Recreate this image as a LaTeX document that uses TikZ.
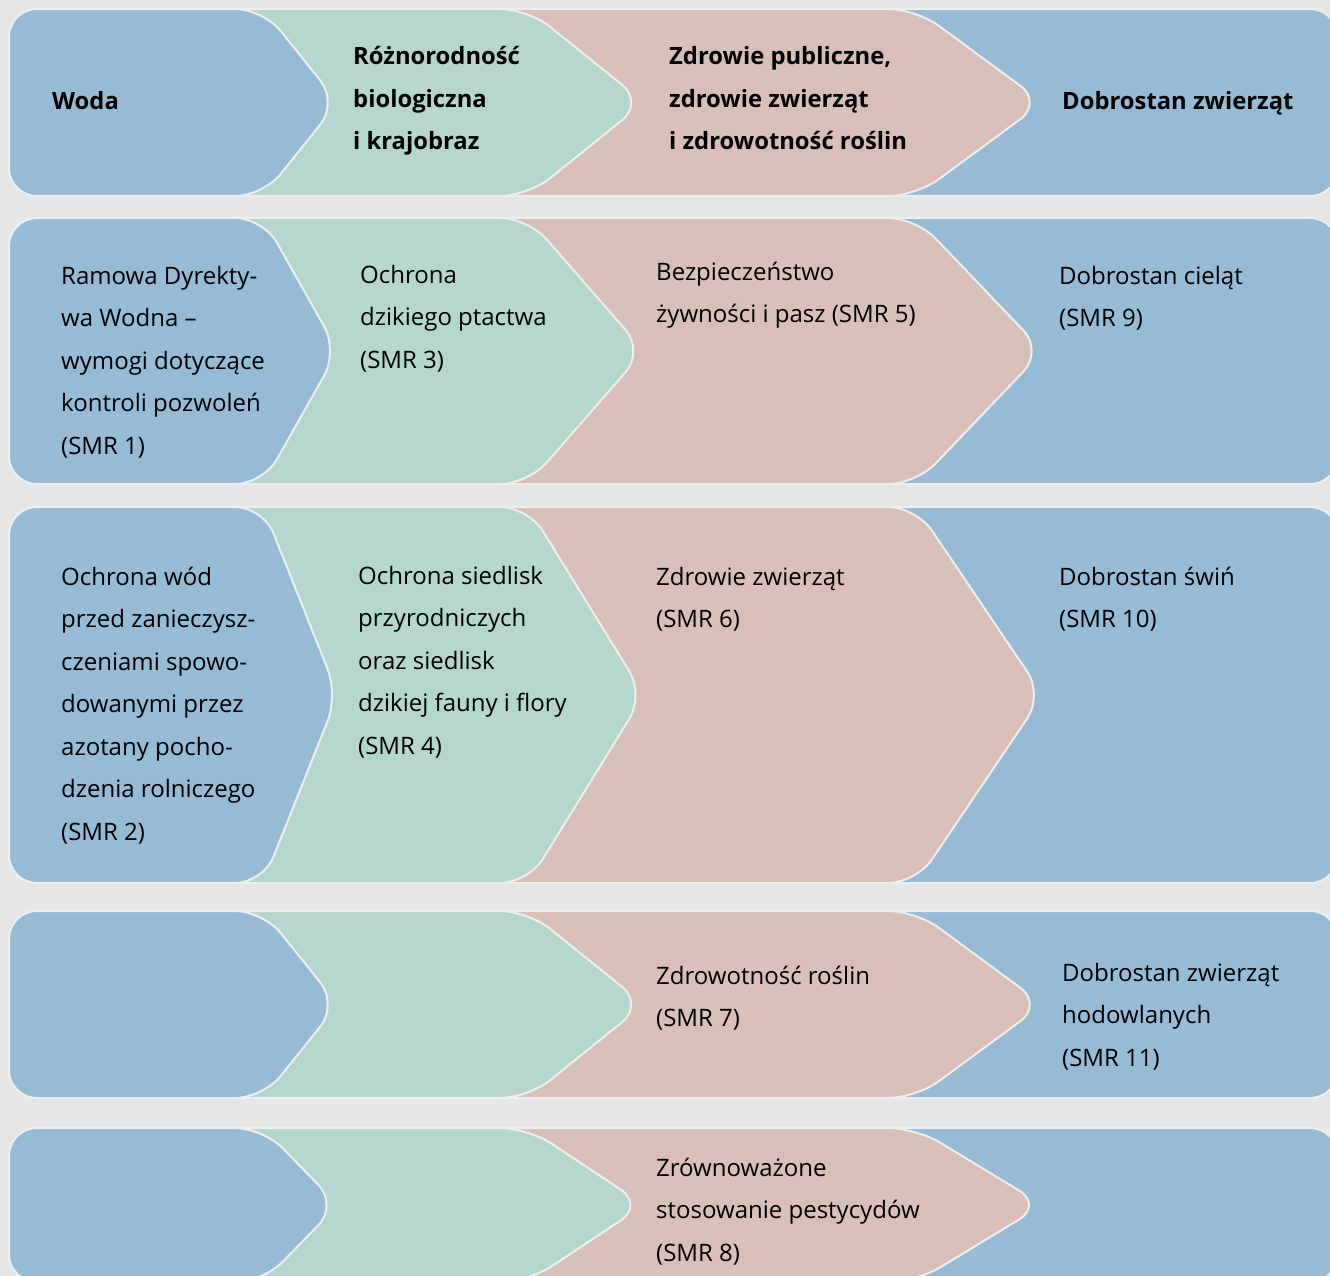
\documentclass[tikz,border=0pt]{standalone}
\usepackage{fontspec}
\setmainfont{Open Sans}
\definecolor{hintergrund}{RGB}{230,230,230}
\definecolor{wasserblau}{RGB}{151,186,213}
\definecolor{mintgruen}{RGB}{181,214,205}
\definecolor{altrosa}{RGB}{216,191,184}
\definecolor{kante}{RGB}{238,238,238}

\begin{document}
\begin{tikzpicture}[x=1pt, y=-1pt,
    feld/.style={fill=#1, draw=kante, line width=2pt, rounded corners=28pt},
    kopf/.style={anchor=base west, inner sep=0pt, align=left,
        font=\fontsize{23.8}{42.5}\selectfont\bfseries},
    eintrag/.style={anchor=base west, inner sep=0pt, align=left,
        font=\fontsize{24}{42.5}\selectfont}]
    % Parameter: Ecke oben und Spitze der Pfeilfelder
    \def\blauEcke{263}  \def\blauSpitze{338}
    \def\gruenEcke{528} \def\gruenSpitze{644}
    \def\rosaEcke{916}  \def\rosaSpitze{1043}

    % Bildrahmen und grauer Hintergrund
    \useasboundingbox (0,0) rectangle (1330,1276);
    \clip (0,0) rectangle (1330,1276);
    \fill[hintergrund] (0,0) rectangle (1330,1276);

    % Zeilen: von hinten (rechts) nach vorne (links) zeichnen
    \foreach \oben/\unten in {9/196, 218/484, 507/883, 911/1098, 1128/1282} {
        \pgfmathsetmacro{\mitte}{(\oben+\unten)/2}
        \draw[feld=wasserblau] (9,\oben) rectangle (1338,\unten);
        \draw[feld=altrosa] (9,\mitte) |- (\rosaEcke,\oben) -- (\rosaSpitze,\mitte)
            -- (\rosaEcke,\unten) -- (9,\unten) -- cycle;
        \draw[feld=mintgruen] (9,\mitte) |- (\gruenEcke,\oben) -- (\gruenSpitze,\mitte)
            -- (\gruenEcke,\unten) -- (9,\unten) -- cycle;
        \draw[feld=wasserblau] (9,\mitte) |- (\blauEcke,\oben) -- (\blauSpitze,\mitte)
            -- (\blauEcke,\unten) -- (9,\unten) -- cycle;
    }

    % Kopfzeile (Anker: Grundlinie der letzten Zeile)
    \node[kopf] (kopfwasser) at (52,110) {Woda};
    \node[kopf] (kopfnatur) at (353,150) {Różnorodność\\biologiczna\\i krajobraz};
    \node[kopf] (kopfgesundheit) at (669,150) {Zdrowie publiczne,\\zdrowie zwierząt\\i zdrowotność roślin};
    \node[kopf] (kopftierwohl) at (1062,110) {Dobrostan zwierząt};

    % Zweite Zeile
    \node[eintrag] (smr1) at (61,454) {Ramowa Dyrekty-\\wa Wodna –\\wymogi dotyczące\\kontroli pozwoleń\\(SMR 1)};
    \node[eintrag] (smr3) at (360,368) {Ochrona\\dzikiego ptactwa\\(SMR 3)};
    \node[eintrag] (smr5) at (656,322.5) {Bezpieczeństwo\\żywności i pasz (SMR 5)};
    \node[eintrag] (smr9) at (1059,326.5) {Dobrostan cieląt\\(SMR 9)};

    % Dritte Zeile
    \node[eintrag] (smr2) at (61,840) {Ochrona wód\\przed zanieczysz-\\czeniami spowo-\\dowanymi przez\\azotany pocho-\\dzenia rolniczego\\(SMR 2)};
    \node[eintrag] (smr4) at (358,754) {Ochrona siedlisk\\przyrodniczych\\oraz siedlisk\\dzikiej fauny i flory\\(SMR 4)};
    \node[eintrag] (smr6) at (656,627.5) {Zdrowie zwierząt\\(SMR 6)};
    \node[eintrag] (smr10) at (1059,627.5) {Dobrostan świń\\(SMR 10)};

    % Vierte und fünfte Zeile
    \node[eintrag] (smr7) at (656,1026.5) {Zdrowotność roślin\\(SMR 7)};
    \node[eintrag] (smr11) at (1062,1066) {Dobrostan zwierząt\\hodowlanych\\(SMR 11)};
    \node[eintrag] (smr8) at (656,1261) {Zrównoważone\\stosowanie pestycydów\\(SMR 8)};
\end{tikzpicture}
\end{document}
